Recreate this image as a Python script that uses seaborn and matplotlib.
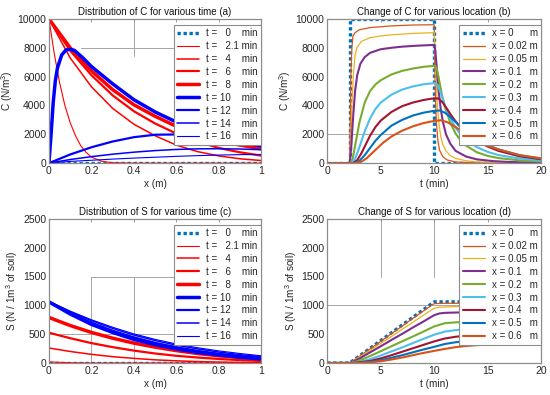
"""
Recreate the 2x2 C / S distribution figure (MATLAB-style look) with seaborn.
"""
import matplotlib
matplotlib.use("Agg")
import matplotlib.pyplot as plt
import seaborn as sns


# =========================
# DATA - panel (a): C vs x for various time
# =========================
X_A = [0, 0.1, 0.2, 0.3, 0.4, 0.5, 0.6, 0.7, 0.8, 0.9, 1.0]
X_A_T21 = [0, 0.025, 0.05, 0.075, 0.1, 0.125, 0.15, 0.175, 0.2, 0.25, 0.3, 0.4, 1.0]
X_A_T10 = [0, 0.01, 0.02, 0.03, 0.04, 0.06, 0.08, 0.1, 0.12, 0.16, 0.2, 0.3, 0.4, 0.5,
           0.6, 0.7, 0.8, 0.9, 1.0]
A_T0 = [0, 0, 0, 0, 0, 0, 0, 0, 0, 0, 0]
A_T21 = [10000, 7600, 5600, 4000, 2800, 1900, 1200, 750, 420, 120, 30, 0, 0]
A_T4 = [10000, 7300, 5300, 3800, 2700, 1900, 1250, 800, 500, 300, 180]
A_T6 = [10000, 7800, 6100, 4700, 3600, 2750, 2050, 1500, 1050, 750, 520]
A_T8 = [10000, 8000, 6400, 5100, 4050, 3250, 2550, 2000, 1550, 1250, 1000]
A_T10 = [0, 2000, 4200, 5700, 6600, 7500, 7850, 7900, 7820, 7300, 6700, 5500, 4400, 3550,
         2850, 2250, 1800, 1500, 1230]
A_T12 = [0, 600, 1100, 1500, 1800, 1970, 1990, 1900, 1700, 1450, 1150]
A_T14 = [0, 250, 450, 620, 760, 870, 950, 990, 1000, 980, 930]
A_T16 = [0, 120, 200, 280, 350, 410, 470, 520, 560, 590, 600]

# =========================
# DATA - panel (c): S vs x for various time
# =========================
X_C = [0, 0.1, 0.2, 0.3, 0.4, 0.5, 0.6, 0.7, 0.8, 0.9, 1.0]
C_T0 = [0, 0, 0, 0, 0, 0, 0, 0, 0, 0, 0]
C_T21 = [20, 4, 0, 0, 0, 0, 0, 0, 0, 0, 0]
C_T4 = [260, 200, 150, 110, 80, 55, 38, 25, 16, 10, 6]
C_T6 = [525, 430, 345, 275, 215, 165, 125, 95, 70, 50, 35]
C_T8 = [790, 650, 530, 430, 345, 275, 215, 165, 125, 95, 70]
C_T10 = [1060, 850, 670, 530, 410, 320, 245, 185, 140, 100, 70]
C_T12 = [1060, 870, 700, 560, 445, 350, 275, 210, 160, 120, 85]
C_T14 = [1065, 890, 735, 600, 485, 390, 310, 245, 190, 145, 110]
C_T16 = [1070, 900, 750, 620, 505, 410, 330, 265, 210, 165, 125]

TIME_LABELS = ["t =   0    min", "t =   2.1 min", "t =   4    min", "t =   6    min",
               "t =   8    min", "t = 10    min", "t = 12    min", "t = 14    min",
               "t = 16    min"]

# =========================
# DATA - panel (b): C vs t for various location
# =========================
B_X0_T = [0, 2.1, 2.1, 10, 10, 20]
B_X0 = [0, 0, 10000, 10000, 0, 0]
B_X002_T = [0, 2.1, 2.15, 2.2, 2.3, 2.4, 2.6, 3, 4, 6, 8, 10, 10.05, 10.1, 10.2, 10.35,
            10.5, 10.8, 11.2, 12, 14, 20]
B_X002 = [0, 0, 3000, 6000, 8000, 8800, 9050, 9250, 9400, 9520, 9580, 9600, 7000, 4800,
          2800, 1500, 900, 450, 220, 80, 20, 0]
B_X005_T = [0, 2.1, 2.2, 2.3, 2.45, 2.6, 2.8, 3.2, 4, 5, 6, 8, 10, 10.1, 10.2, 10.3, 10.45,
            10.6, 10.8, 11.1, 11.5, 12, 13, 14, 16, 20]
B_X005 = [0, 0, 1500, 4000, 6200, 7500, 8050, 8450, 8700, 8820, 8900, 9000, 9050, 7500,
          5500, 4000, 2700, 1900, 1300, 850, 520, 330, 160, 90, 40, 15]
B_X01_T = [0, 2.1, 2.25, 2.4, 2.6, 2.8, 3.1, 3.5, 4, 5, 6, 7, 8.5, 10, 10.1, 10.25, 10.4,
           10.6, 10.8, 11.1, 11.5, 12, 13, 14, 15.5, 17, 20]
B_X01 = [0, 0, 1200, 3000, 5000, 6100, 6900, 7350, 7650, 7900, 8000, 8080, 8150, 8200,
         7800, 6500, 5100, 3800, 2900, 2000, 1350, 850, 450, 260, 140, 80, 30]
B_X02_T = [0, 2.2, 2.4, 2.7, 3, 3.5, 4, 4.5, 5, 6, 7, 8, 9, 10, 10.2, 10.4, 10.7, 11, 11.5,
           12, 12.5, 13, 14, 15, 16, 18, 20]
B_X02 = [0, 0, 400, 1600, 2800, 4200, 5000, 5450, 5750, 6150, 6400, 6560, 6680, 6750, 6650,
         6000, 4800, 3900, 2800, 2050, 1550, 1200, 750, 500, 350, 190, 110]
B_X03_T = [0, 2.3, 2.6, 3, 3.5, 4, 4.5, 5, 6, 7, 8, 9, 10, 10.3, 10.6, 11, 11.5, 12, 12.5,
           13, 14, 15, 16, 18, 20]
B_X03 = [0, 0, 300, 1100, 2200, 3100, 3750, 4200, 4750, 5100, 5320, 5470, 5550, 5450, 4900,
         4000, 3100, 2450, 1950, 1600, 1100, 780, 560, 320, 180]
B_X04_T = [0, 2.4, 2.8, 3.2, 3.6, 4, 4.5, 5, 6, 7, 8, 9, 10, 10.4, 10.8, 11.2, 11.6, 12,
           12.5, 13, 14, 15, 16, 18, 20]
B_X04 = [0, 0, 200, 700, 1300, 1900, 2500, 2950, 3550, 3950, 4200, 4380, 4500, 4480, 4200,
         3750, 3300, 2900, 2450, 2100, 1550, 1150, 850, 470, 270]
B_X05_T = [0, 2.5, 3, 3.5, 4, 4.5, 5, 6, 7, 8, 9, 10, 10.5, 11, 11.5, 12, 12.5, 13, 14, 15,
           16, 18, 20]
B_X05 = [0, 0, 150, 550, 1050, 1550, 1950, 2600, 3000, 3300, 3500, 3630, 3650, 3500, 3200,
         2850, 2500, 2200, 1650, 1250, 950, 530, 310]
B_X06_T = [0, 2.6, 3.2, 3.7, 4.2, 4.7, 5.2, 6, 7, 8, 9, 10, 10.6, 11.2, 11.8, 12.4, 13, 14,
           15, 16, 18, 20]
B_X06 = [0, 0, 100, 350, 700, 1050, 1400, 1850, 2250, 2550, 2780, 2930, 2970, 2850, 2600,
         2300, 2000, 1550, 1200, 950, 560, 330]

# =========================
# DATA - panel (d): S vs t for various location
# =========================
D_X0_T = [0, 2.1, 10, 20]
D_X0 = [0, 0, 1060, 1060]
D_X002_T = [0, 2.1, 3, 4, 5, 6, 7, 8, 9, 10, 11, 20]
D_X002 = [0, 0, 115, 245, 375, 510, 640, 775, 905, 1030, 1035, 1040]
D_X005_T = [0, 2.1, 3, 4, 5, 6, 7, 8, 9, 10, 10.5, 12, 20]
D_X005 = [0, 0, 100, 220, 340, 460, 585, 705, 830, 950, 968, 978, 990]
D_X01_T = [0, 2.1, 3, 4, 5, 6, 7, 8, 9, 10, 10.5, 11, 13, 20]
D_X01 = [0, 0, 75, 185, 290, 400, 505, 615, 720, 830, 860, 870, 880, 893]
D_X02_T = [0, 2.2, 3, 4, 5, 6, 7, 8, 9, 10, 11, 12, 14, 17, 20]
D_X02 = [0, 0, 40, 120, 205, 290, 375, 460, 545, 635, 690, 705, 720, 732, 740]
D_X03_T = [0, 2.3, 3, 4, 5, 6, 7, 8, 9, 10, 11, 12, 14, 17, 20]
D_X03 = [0, 0, 15, 65, 130, 200, 270, 345, 420, 490, 545, 570, 595, 610, 618]
D_X04_T = [0, 2.4, 4, 5, 6, 7, 8, 9, 10, 11, 12, 13, 15, 17, 20]
D_X04 = [0, 0, 35, 80, 135, 195, 255, 315, 375, 425, 455, 475, 495, 505, 510]
D_X05_T = [0, 2.5, 4, 5, 6, 7, 8, 9, 10, 11, 12, 13, 15, 17, 20]
D_X05 = [0, 0, 20, 50, 90, 135, 185, 235, 280, 330, 360, 380, 400, 410, 418]
D_X06_T = [0, 2.6, 4, 5, 6, 7, 8, 9, 10, 11, 12, 13, 14, 15, 17, 20]
D_X06 = [0, 0, 10, 30, 60, 95, 135, 175, 210, 245, 275, 295, 310, 320, 333, 340]

LOC_LABELS = ["x = 0      m", "x = 0.02 m", "x = 0.05 m", "x = 0.1   m", "x = 0.2   m",
              "x = 0.3   m", "x = 0.4   m", "x = 0.5   m", "x = 0.6   m"]

# =========================
# STYLES
# =========================
DOT = (0, (1, 0.8))
TIME_COLORS = ["#0072BD"] + ["#ff0000"] * 4 + ["#0000ff"] * 4
TIME_WIDTHS = [2.4, 0.8, 1.1, 1.6, 2.5, 2.5, 1.6, 1.1, 0.8]
TIME_STYLES = [DOT] + ["-"] * 8
LOC_COLORS = ["#0072BD", "#D95319", "#EDB120", "#7E2F8E", "#77AC30",
              "#4DBEEE", "#A2142F", "#0072BD", "#D95319"]
LOC_WIDTHS = [2.4, 0.9, 0.9, 1.5, 1.5, 1.5, 1.5, 1.5, 1.5]
LOC_STYLES = [DOT] + ["-"] * 8

sns.set_theme(style="white")
plt.rcParams["font.family"] = ["Liberation Sans", "DejaVu Sans"]
plt.rcParams["font.size"] = 7
plt.rcParams["mathtext.default"] = "regular"

TXT = "#262626"
SPINE = "#8c8c8c"
GRID = "#a6a6a6"


def draw_series(ax, xs, ys, labels, colors, widths, styles):
    for x, y, lab, col, lw, ls in zip(xs, ys, labels, colors, widths, styles):
        sns.lineplot(x=x, y=y, ax=ax, color=col, linewidth=lw, linestyle=ls,
                     label=lab, estimator=None, sort=False)


def style_axes(ax, title, xlabel, ylabel, xlim, ylim, xticks, yticks, xticklabels=None):
    ax.set_xlim(*xlim)
    ax.set_ylim(*ylim)
    ax.set_xticks(xticks)
    if xticklabels is not None:
        ax.set_xticklabels(xticklabels)
    ax.set_yticks(yticks)
    ax.set_title(title, fontsize=7.0, color="#111111", pad=3)
    ax.set_xlabel(xlabel, fontsize=7.2, color=TXT, labelpad=2)
    ax.set_ylabel(ylabel, fontsize=7.2, color=TXT, labelpad=2)
    ax.tick_params(direction="in", length=2.5, width=0.6, top=True, right=True,
                   labelsize=7.5, colors=SPINE, labelcolor=TXT, pad=2)
    for sp in ax.spines.values():
        sp.set_color(SPINE)
        sp.set_linewidth(0.9)
    leg = ax.legend(loc="upper right", bbox_to_anchor=(1.0, 0.96), borderaxespad=0,
                    fontsize=7.0, handlelength=2.3, handletextpad=0.7,
                    labelspacing=0.3, borderpad=0.35, fancybox=False,
                    framealpha=1, edgecolor=SPINE)
    leg.get_frame().set_linewidth(0.8)
    for t in leg.get_texts():
        t.set_color(TXT)


fig = plt.figure(figsize=(5.5, 3.95), dpi=100)
ax_a = fig.add_axes([0.089, 0.587, 0.386, 0.365])
ax_b = fig.add_axes([0.595, 0.587, 0.389, 0.365])
ax_c = fig.add_axes([0.089, 0.081, 0.386, 0.365])
ax_d = fig.add_axes([0.595, 0.081, 0.389, 0.365])

# partial grid lines, as they appear in the original figure
ax_a.axvline(0.4, ymin=0.74, ymax=1, color=GRID, lw=0.7, zorder=0)
ax_a.axhline(8000, xmin=0.15, xmax=0.6, color=GRID, lw=0.7, zorder=0)
ax_b.axhline(2000, xmin=0, xmax=0.5, color=GRID, lw=0.7, zorder=0)
ax_c.axvline(0.2, ymin=0, ymax=0.6, color=GRID, lw=0.7, zorder=0)
ax_c.axvline(0.4, ymin=0, ymax=0.6, color=GRID, lw=0.7, zorder=0)
ax_c.axhline(1500, xmin=0.2, xmax=0.6, color=GRID, lw=0.7, zorder=0)
ax_c.axhline(500, xmin=0, xmax=0.6, color=GRID, lw=0.7, zorder=0)
ax_d.axvline(5, ymin=0.6, ymax=1, color=GRID, lw=0.7, zorder=0)
ax_d.axvline(10, ymin=0.6, ymax=1, color=GRID, lw=0.7, zorder=0)
ax_d.axhline(1000, xmin=0, xmax=0.62, color=GRID, lw=0.7, zorder=0)

draw_series(ax_a,
            [X_A, X_A_T21, X_A, X_A, X_A, X_A_T10, X_A, X_A, X_A],
            [A_T0, A_T21, A_T4, A_T6, A_T8, A_T10, A_T12, A_T14, A_T16],
            TIME_LABELS, TIME_COLORS, TIME_WIDTHS, TIME_STYLES)
draw_series(ax_c,
            [X_C] * 9,
            [C_T0, C_T21, C_T4, C_T6, C_T8, C_T10, C_T12, C_T14, C_T16],
            TIME_LABELS, TIME_COLORS, TIME_WIDTHS, TIME_STYLES)
draw_series(ax_b,
            [B_X0_T, B_X002_T, B_X005_T, B_X01_T, B_X02_T, B_X03_T, B_X04_T, B_X05_T, B_X06_T],
            [B_X0, B_X002, B_X005, B_X01, B_X02, B_X03, B_X04, B_X05, B_X06],
            LOC_LABELS, LOC_COLORS, LOC_WIDTHS, LOC_STYLES)
draw_series(ax_d,
            [D_X0_T, D_X002_T, D_X005_T, D_X01_T, D_X02_T, D_X03_T, D_X04_T, D_X05_T, D_X06_T],
            [D_X0, D_X002, D_X005, D_X01, D_X02, D_X03, D_X04, D_X05, D_X06],
            LOC_LABELS, LOC_COLORS, LOC_WIDTHS, LOC_STYLES)

x_ticks = [0, 0.2, 0.4, 0.6, 0.8, 1.0]
x_labels = ["0", "0.2", "0.4", "0.6", "0.8", "1"]
t_ticks = [0, 5, 10, 15, 20]
c_ticks = [0, 2000, 4000, 6000, 8000, 10000]
s_ticks = [0, 500, 1000, 1500, 2000, 2500]

style_axes(ax_a, "Distribution of C for various time (a)", "x (m)", "C (N/m$^3$)",
           (0, 1), (0, 10000), x_ticks, c_ticks, x_labels)
style_axes(ax_b, "Change of C for various location (b)", "t (min)", "C (N/m$^3$)",
           (0, 20), (0, 10000), t_ticks, c_ticks)
style_axes(ax_c, "Distribution of S for various time (c)", "x (m)",
           "S (N / 1m$^3$ of soil)", (0, 1), (0, 2500), x_ticks, s_ticks, x_labels)
style_axes(ax_d, "Change of S for various location (d)", "t (min)",
           "S (N / 1m$^3$ of soil)", (0, 20), (0, 2500), t_ticks, s_ticks)

fig.savefig("out.png", dpi=100)
